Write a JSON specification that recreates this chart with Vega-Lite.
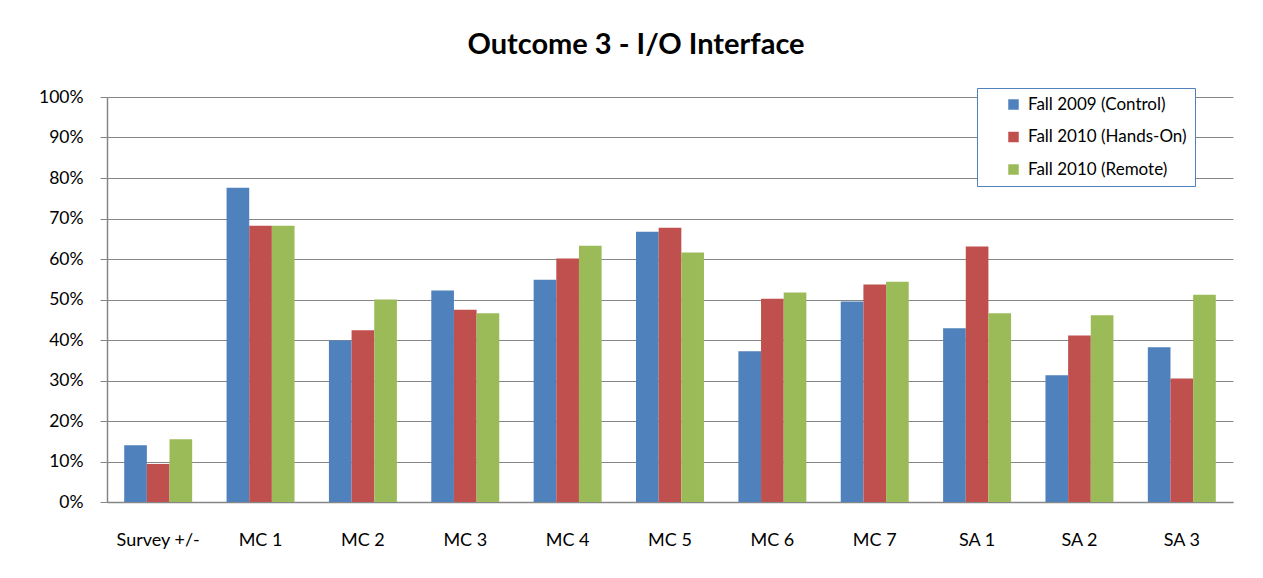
{
  "$schema": "https://vega.github.io/schema/vega-lite/v6.json",
  "width": 1126,
  "height": 405,
  "autosize": {"type": "none"},
  "padding": {"left": 107, "top": 97, "right": 30, "bottom": 76},
  "background": "white",
  "title": {"text": "Outcome 3 - I/O Interface", "fontSize": 29, "font": "Lato", "fontWeight": "bold", "color": "#000000", "offset": 28, "dx": -34, "anchor": "middle"},
  "config": {
    "view": {"stroke": null},
    "font": "Lato"
  },
  "data": {"values": [
    {"cat": "Survey +/-", "series": "Fall 2009 (Control)", "v": 0.140},
    {"cat": "Survey +/-", "series": "Fall 2010 (Hands-On)", "v": 0.094},
    {"cat": "Survey +/-", "series": "Fall 2010 (Remote)", "v": 0.155},
    {"cat": "MC 1", "series": "Fall 2009 (Control)", "v": 0.776},
    {"cat": "MC 1", "series": "Fall 2010 (Hands-On)", "v": 0.682},
    {"cat": "MC 1", "series": "Fall 2010 (Remote)", "v": 0.682},
    {"cat": "MC 2", "series": "Fall 2009 (Control)", "v": 0.399},
    {"cat": "MC 2", "series": "Fall 2010 (Hands-On)", "v": 0.424},
    {"cat": "MC 2", "series": "Fall 2010 (Remote)", "v": 0.500},
    {"cat": "MC 3", "series": "Fall 2009 (Control)", "v": 0.522},
    {"cat": "MC 3", "series": "Fall 2010 (Hands-On)", "v": 0.475},
    {"cat": "MC 3", "series": "Fall 2010 (Remote)", "v": 0.466},
    {"cat": "MC 4", "series": "Fall 2009 (Control)", "v": 0.549},
    {"cat": "MC 4", "series": "Fall 2010 (Hands-On)", "v": 0.601},
    {"cat": "MC 4", "series": "Fall 2010 (Remote)", "v": 0.633},
    {"cat": "MC 5", "series": "Fall 2009 (Control)", "v": 0.667},
    {"cat": "MC 5", "series": "Fall 2010 (Hands-On)", "v": 0.677},
    {"cat": "MC 5", "series": "Fall 2010 (Remote)", "v": 0.616},
    {"cat": "MC 6", "series": "Fall 2009 (Control)", "v": 0.372},
    {"cat": "MC 6", "series": "Fall 2010 (Hands-On)", "v": 0.502},
    {"cat": "MC 6", "series": "Fall 2010 (Remote)", "v": 0.517},
    {"cat": "MC 7", "series": "Fall 2009 (Control)", "v": 0.495},
    {"cat": "MC 7", "series": "Fall 2010 (Hands-On)", "v": 0.537},
    {"cat": "MC 7", "series": "Fall 2010 (Remote)", "v": 0.544},
    {"cat": "SA 1", "series": "Fall 2009 (Control)", "v": 0.429},
    {"cat": "SA 1", "series": "Fall 2010 (Hands-On)", "v": 0.631},
    {"cat": "SA 1", "series": "Fall 2010 (Remote)", "v": 0.466},
    {"cat": "SA 2", "series": "Fall 2009 (Control)", "v": 0.313},
    {"cat": "SA 2", "series": "Fall 2010 (Hands-On)", "v": 0.411},
    {"cat": "SA 2", "series": "Fall 2010 (Remote)", "v": 0.461},
    {"cat": "SA 3", "series": "Fall 2009 (Control)", "v": 0.382},
    {"cat": "SA 3", "series": "Fall 2010 (Hands-On)", "v": 0.305},
    {"cat": "SA 3", "series": "Fall 2010 (Remote)", "v": 0.512}
  ]},
  "mark": {"type": "bar"},
  "encoding": {
    "x": {
      "field": "cat", "type": "nominal", "sort": null,
      "scale": {"paddingInner": 0.336, "paddingOuter": 0.168},
      "axis": {"title": null, "labelAngle": 0, "labelFontSize": 18, "labelColor": "#000000", "labelFont": "Lato", "ticks": false, "labelPadding": 29, "domainColor": "#868686", "domainWidth": 1.5, "grid": false}
    },
    "xOffset": {"field": "series", "type": "nominal", "sort": null, "scale": {"paddingInner": 0, "paddingOuter": 0}},
    "y": {
      "field": "v", "type": "quantitative",
      "scale": {"domain": [0, 1], "nice": false},
      "axis": {"title": null, "format": ".0%", "values": [0, 0.1, 0.2, 0.3, 0.4, 0.5, 0.6, 0.7, 0.8, 0.9, 1.0], "labelFontSize": 17.5, "labelColor": "#000000", "labelFont": "Lato", "tickSize": 7, "tickColor": "#868686", "labelPadding": 17, "domainColor": "#868686", "domainWidth": 1.5, "gridColor": "#868686", "gridWidth": 1.2}
    },
    "color": {
      "field": "series", "type": "nominal", "sort": null,
      "scale": {"domain": ["Fall 2009 (Control)", "Fall 2010 (Hands-On)", "Fall 2010 (Remote)"], "range": ["#4F81BD", "#C0504D", "#9BBB59"]},
      "legend": {"title": null, "orient": "none", "legendX": 870, "legendY": -9, "symbolType": "square", "symbolSize": 110, "labelFontSize": 17, "labelFont": "Lato", "labelColor": "#000000", "strokeColor": "#4F81BD", "padding": 8, "rowPadding": 14.5, "symbolOffset": 20, "labelOffset": 6, "fillColor": "white", "labelLimit": 400, "labelExpr": "datum.label + '\u00a0\u00a0\u00a0\u00a0\u00a0\u00a0\u00a0\u00a0\u00a0\u00a0'"}
    }
  }
}
